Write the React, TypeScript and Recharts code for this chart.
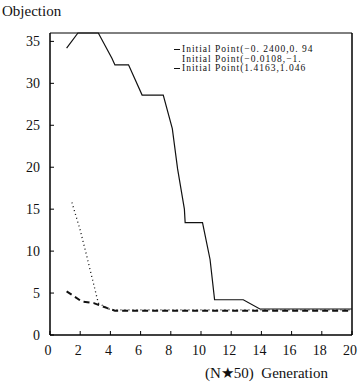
import { LineChart, Line, XAxis, YAxis, ReferenceLine } from "recharts";

// Solid curve (first initial point)
const genA = [1.1, 1.85, 3.2, 4.1, 4.3, 5.2, 6.1, 7.5, 8.1, 8.45, 8.9, 8.95, 10.1, 10.6, 10.9, 12.8, 13.9, 20];
const objA = [34.2, 36, 36, 33, 32.2, 32.2, 28.6, 28.6, 24.6, 19.8, 15.0, 13.4, 13.4, 9, 4.2, 4.2, 3.1, 3.1];

// Dotted curve (second initial point)
const genB = [1.45, 2.0, 2.45, 2.65, 3.2, 4.0, 20];
const objB = [15.8, 12.5, 9.3, 7.8, 3.8, 3.0, 3.0];

// Dashed curve (third initial point)
const genC = [1.1, 2.1, 2.9, 3.8, 4.3, 20];
const objC = [5.2, 4.0, 3.8, 3.2, 2.9, 2.9];

const xTicks = [0, 2, 4, 6, 8, 10, 12, 14, 16, 18, 20];
const yTicks = [0, 5, 10, 15, 20, 25, 30, 35];

const legendLabels = [
  "Initial Point(\u22120. 2400,0. 94",
  "Initial Point(\u22120.0108,\u22121.",
  "Initial Point(1.4163,1.046",
];

const toRows = (g: number[], o: number[]) => g.map((v, i) => ({ g: v, o: o[i] }));

const FONT = "'Liberation Serif', 'DejaVu Serif', serif";

const YTick = (props: any) => {
  const { x, y, payload } = props;
  return (
    <g>
      <line x1={x} y1={y} x2={x + 4} y2={y} stroke="#000" />
      <text x={x - 10} y={y + 5} textAnchor="end" fontSize={14} fontFamily={FONT} fill="#111">
        {payload.value}
      </text>
    </g>
  );
};

const XTick = (props: any) => {
  const { x, y, payload } = props;
  return (
    <g>
      <line x1={x} y1={y} x2={x} y2={y - 4} stroke="#000" />
      <text x={x - 2} y={y + 20} textAnchor="middle" fontSize={14} fontFamily={FONT} fill="#111">
        {payload.value}
      </text>
    </g>
  );
};

export default function App() {
  return (
    <div style={{ position: "absolute", left: 0, top: 0, width: 360, height: 384, background: "#fff", overflow: "hidden" }}>
      <LineChart width={360} height={384} margin={{ top: 33, right: 8, left: 0, bottom: 0 }}>
        <XAxis
          dataKey="g"
          type="number"
          domain={[0, 20]}
          ticks={xTicks}
          height={49}
          tickSize={0}
          tickMargin={0}
          tickLine={false}
          tick={<XTick />}
          axisLine={{ stroke: "#000", strokeWidth: 1.5 }}
          allowDuplicatedCategory={false}
        />
        <YAxis
          type="number"
          domain={[0, 36]}
          ticks={yTicks}
          width={50}
          tickSize={0}
          tickMargin={0}
          tickLine={false}
          tick={<YTick />}
          axisLine={{ stroke: "#000", strokeWidth: 1.5 }}
        />
        <ReferenceLine y={36} stroke="#000" strokeWidth={1} />
        <ReferenceLine x={20} stroke="#000" strokeWidth={1.5} />
        <Line data={toRows(genA, objA)} dataKey="o" type="linear" stroke="#111" strokeWidth={1.2} dot={false} isAnimationActive={false} />
        <Line data={toRows(genB, objB)} dataKey="o" type="linear" stroke="#111" strokeWidth={1.3} strokeDasharray="1 3" dot={false} isAnimationActive={false} />
        <Line data={toRows(genC, objC)} dataKey="o" type="linear" stroke="#111" strokeWidth={2} strokeDasharray="6 4" dot={false} isAnimationActive={false} />
      </LineChart>
      <div style={{ position: "absolute", left: 2, top: 3, fontFamily: FONT, fontSize: 15, color: "#111" }}>Objection</div>
      <div style={{ position: "absolute", left: 205, top: 364, fontFamily: FONT, fontSize: 15, color: "#111", whiteSpace: "nowrap" }}>
        (N&#9733;50)&nbsp; Generation
      </div>
      <div style={{ position: "absolute", left: 174, top: 45, width: 186, overflow: "hidden", fontFamily: FONT, fontSize: 9.5, lineHeight: "9.5px", color: "#111", whiteSpace: "nowrap", letterSpacing: 1 }}>
        {legendLabels.map((t, i) => (
          <div key={i} style={{ display: "flex", alignItems: "center", height: 9.5 }}>
            <span style={{ display: "inline-block", width: 6, borderTop: i === 1 ? "none" : "1px solid #111", marginRight: 2 }} />
            <span>{t}</span>
          </div>
        ))}
      </div>
    </div>
  );
}
